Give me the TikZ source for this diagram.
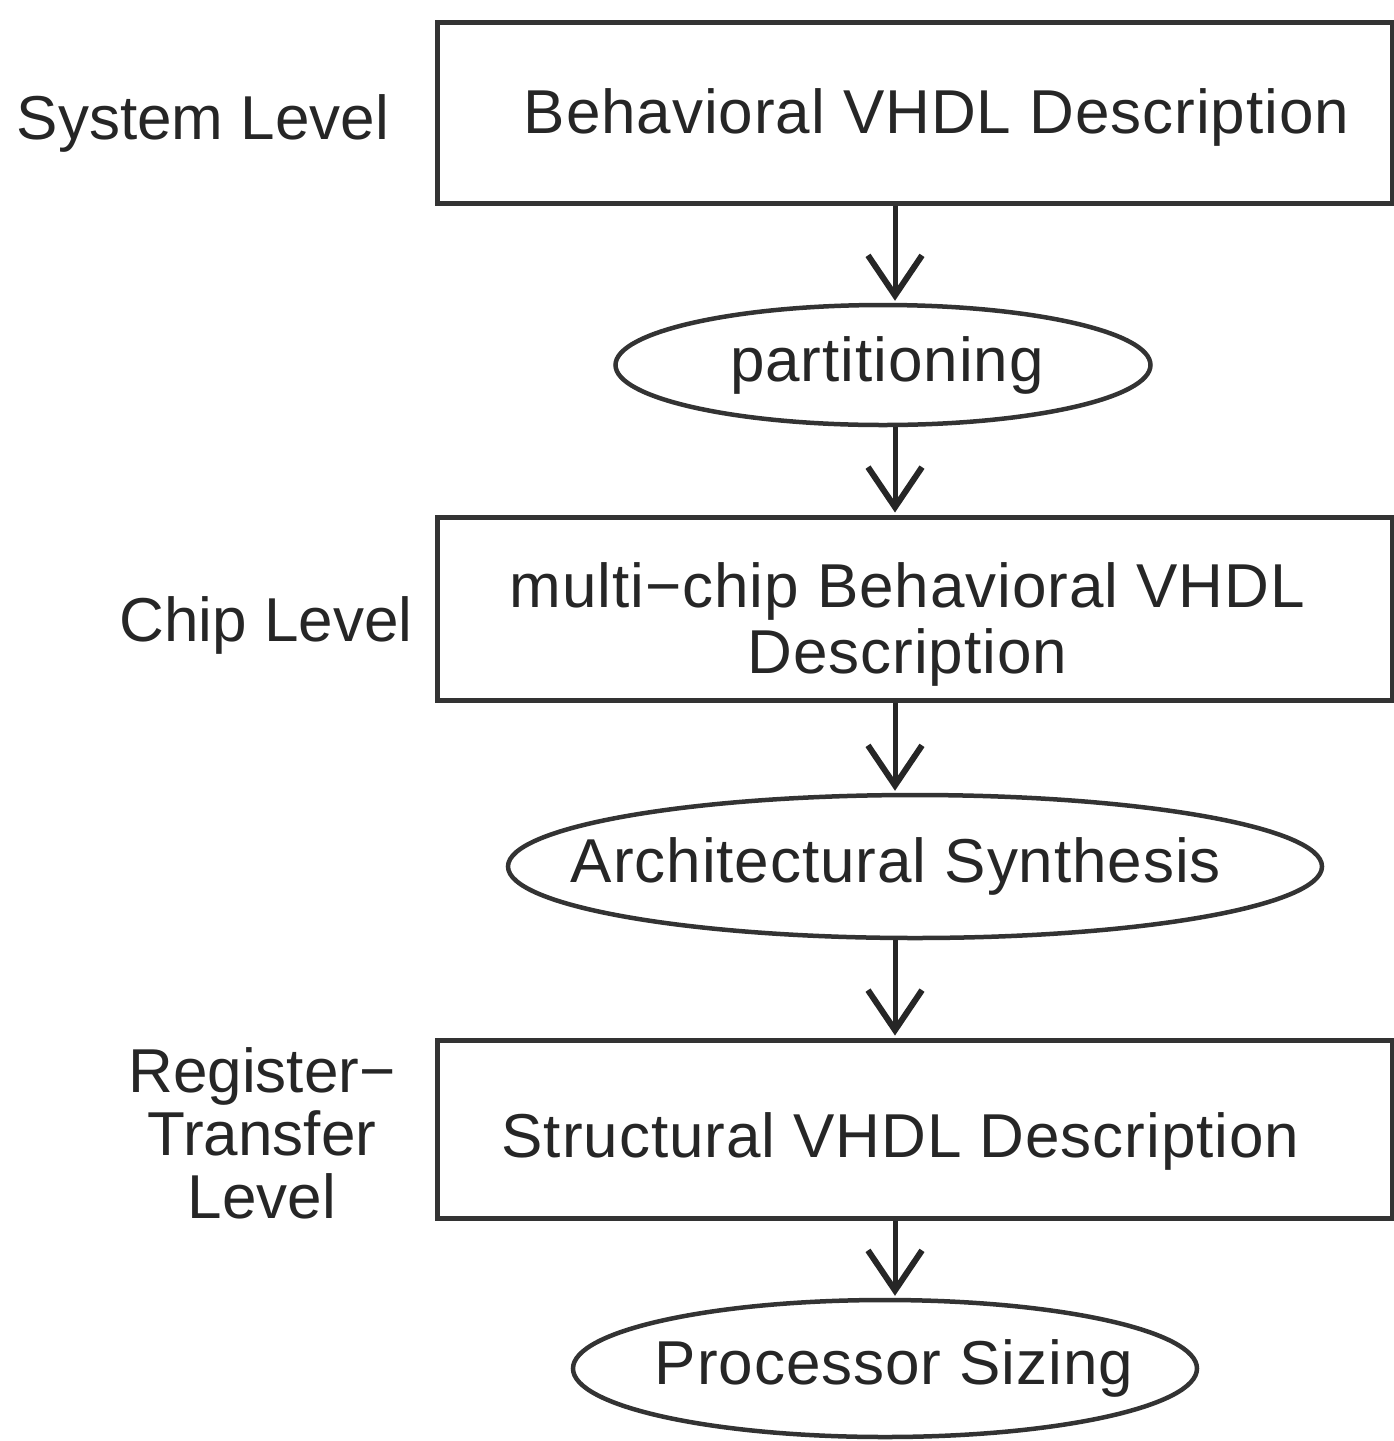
\documentclass[tikz,border=0pt]{standalone}
\usepackage{fontspec}
\setmainfont{Liberation Sans}
\newfontfamily\spaced[LetterSpace=1.5]{Liberation Sans}
\usetikzlibrary{shapes.geometric,arrows.meta}
\begin{document}
\begin{tikzpicture}[x=1pt,y=-1pt,
  every node/.style={font=\fontsize{62}{64}\selectfont, text=black!85},
  every label/.style={font=\spaced\fontsize{62}{66}\selectfont, text=black!85, align=center},
  box/.style={draw=black!80, line width=5pt, minimum width=955pt, inner sep=0pt},
  oval/.style={draw=black!80, ellipse, line width=4.5pt, inner sep=0pt},
  lvl/.style={align=center, font=\fontsize{62}{63}\selectfont},
  arr/.style={draw=black!85, line width=5pt, -{Straight Barb[length=40pt,width=54pt,line width=6pt]}, shorten >=2pt}]
\useasboundingbox (0,0) rectangle (1394,1441);
\coordinate (ax) at (895,0);
\node[box, minimum height=181pt, label={[xshift=22pt,yshift=-5pt]center:Behavioral VHDL Description}] (b1) at (914.5,112.5) {};
\node[oval, minimum width=535pt, minimum height=120pt, label={[xshift=4pt]center:partitioning}] (p1) at (883,365) {};
\node[box, minimum height=183pt, label={[xshift=-7pt,yshift=-16pt]center:multi−chip Behavioral VHDL\\Description}] (b2) at (914.5,608.5) {};
\node[oval, minimum width=814pt, minimum height=143pt, label={[xshift=-19pt]center:Architectural Synthesis}] (p2) at (915,866.5) {};
\node[box, minimum height=178pt, label={[xshift=-14pt,yshift=-12pt]center:Structural VHDL Description}] (b3) at (914.5,1129) {};
\node[oval, minimum width=624pt, minimum height=137pt, label={[xshift=9pt]center:Processor Sizing}] (p3) at (885,1368.5) {};
\node[lvl] (l1) at (203,123) {System Level};
\node[lvl] (l2) at (266,625) {Chip Level};
\node[lvl] (l3) at (262,1133) {Register−\\Transfer\\Level};
\draw[arr] (b1.south -| ax) -- (p1.north -| ax);
\draw[arr] (p1.south -| ax) -- (b2.north -| ax);
\draw[arr] (b2.south -| ax) -- (p2.north -| ax);
\draw[arr] (p2.south -| ax) -- (b3.north -| ax);
\draw[arr] (b3.south -| ax) -- (p3.north -| ax);
\end{tikzpicture}
\end{document}
